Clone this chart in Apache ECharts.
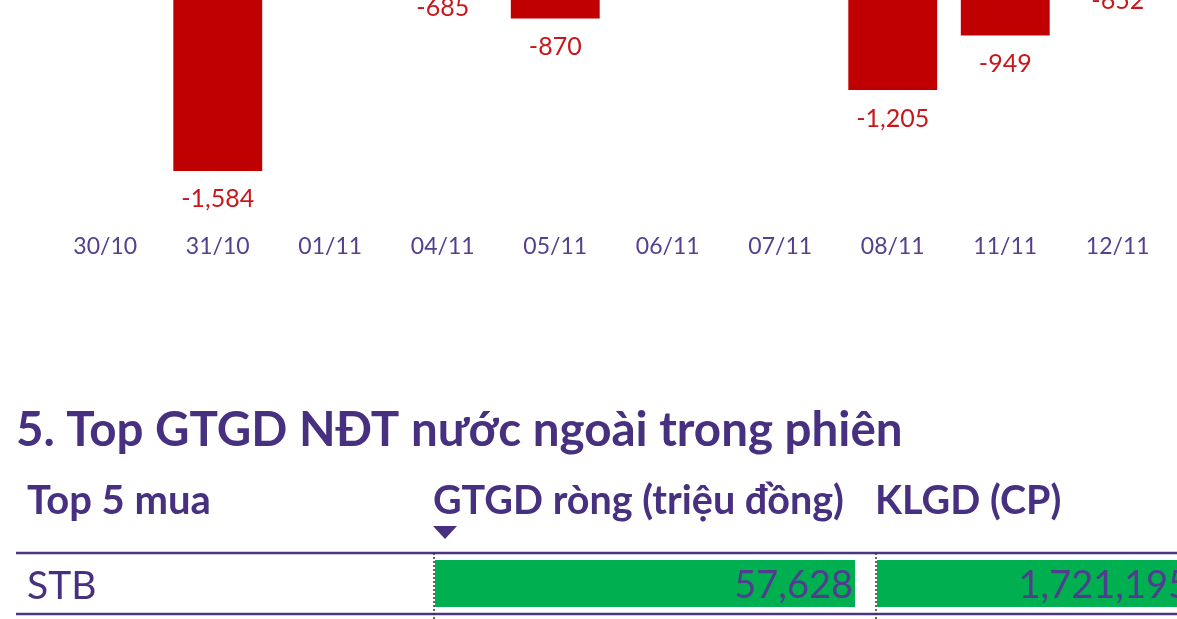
<!DOCTYPE html>
<html>
<head>
<meta charset="utf-8">
<script src="https://cdn.jsdelivr.net/npm/echarts@6/dist/echarts.min.js"></script>
<style>
html,body{margin:0;padding:0;background:#fff;}
#c{width:1177px;height:619px;}
</style>
</head>
<body>
<div id="c"></div>
<script>
// ---- data ----
var dates = ['30/10','31/10','01/11','04/11','05/11','06/11','07/11','08/11','11/11','12/11'];
// net foreign trading value (bn VND); positive days are above the visible area (unknown -> null)
var netValues = [null, -1584, null, -685, -870, null, null, -1205, -949, -652];

var sectionTitle = '5. Top GTGD NĐT nước ngoài trong phiên';
var tableHeaders = ['Top 5 mua', 'GTGD ròng (triệu đồng)', 'KLGD (CP)'];
var topBuyTickers = ['STB'];
var topBuyValue = [57628];
var topBuyVolume = [1721195];

// ---- style ----
var PURPLE = '#47307F';
var AXIS_PURPLE = '#54408F';
var RED = '#C00000';
var LABEL_RED = '#C8161B';
var GREEN = '#00B050';
var FONT = 'Lato, "Noto Sans", sans-serif';

function fmt(v){ return Number(v).toLocaleString('en-US'); }

var chart = echarts.init(document.getElementById('c'), null, {renderer:'canvas'});

var option = {
  animation: false,
  backgroundColor: '#fff',
  textStyle: { fontFamily: FONT },
  grid: [
    { left: 49, right: 3, top: -167, bottom: 402, outerBoundsMode: 'none', containLabel: false },
    { left: 435, top: 560, width: 420, height: 47, outerBoundsMode: 'none', containLabel: false },
    { left: 877, top: 560, width: 315, height: 47, outerBoundsMode: 'none', containLabel: false }
  ],
  xAxis: [
    {
      gridIndex: 0, type: 'category', data: dates, position: 'bottom',
      axisLine: { show: false, onZero: false }, axisTick: { show: false },
      axisLabel: { color: AXIS_PURPLE, fontSize: 23, margin: 18, fontFamily: FONT }
    },
    { gridIndex: 1, type: 'value', min: 0, max: Math.max.apply(null, topBuyValue), show: false },
    { gridIndex: 2, type: 'value', min: 0, max: Math.max.apply(null, topBuyVolume), show: false }
  ],
  yAxis: [
    { gridIndex: 0, type: 'value', min: -1800, max: 0, show: false, splitLine: { show: false } },
    { gridIndex: 1, type: 'category', data: topBuyTickers, inverse: true, show: false },
    { gridIndex: 2, type: 'category', data: topBuyTickers, inverse: true, show: false }
  ],
  series: [
    {
      type: 'bar', xAxisIndex: 0, yAxisIndex: 0, data: netValues,
      barCategoryGap: '21%', clip: false,
      itemStyle: { color: RED },
      label: {
        show: true, position: 'bottom', distance: 16,
        color: LABEL_RED, fontSize: 25, fontFamily: FONT,
        formatter: function(p){ return fmt(p.value); }
      }
    },
    {
      type: 'bar', xAxisIndex: 1, yAxisIndex: 1, data: topBuyValue,
      barWidth: 47, itemStyle: { color: GREEN },
      label: {
        show: true, position: 'insideRight', distance: 2, offset: [0, 2],
        color: '#503D8F', fontSize: 38, fontFamily: FONT,
        formatter: function(p){ return fmt(p.value); }
      }
    },
    {
      type: 'bar', xAxisIndex: 2, yAxisIndex: 2, data: topBuyVolume,
      barWidth: 47, itemStyle: { color: GREEN },
      label: {
        show: true, position: 'insideRight', distance: 2, offset: [0, 2],
        color: '#503D8F', fontSize: 38, fontFamily: FONT,
        formatter: function(p){ return fmt(p.value); }
      }
    }
  ],
  graphic: [
    { type: 'text', left: 16, top: 407, style: { text: sectionTitle, fill: PURPLE, font: 'bold 47.5px ' + FONT } },
    { type: 'text', left: 27, top: 481, style: { text: tableHeaders[0], fill: PURPLE, font: 'bold 40px ' + FONT } },
    { type: 'text', left: 433, top: 481, style: { text: tableHeaders[1], fill: PURPLE, font: 'bold 39.5px ' + FONT } },
    { type: 'text', left: 875, top: 481, style: { text: tableHeaders[2], fill: PURPLE, font: 'bold 39.5px ' + FONT } },
    { type: 'polygon', shape: { points: [[433,526],[457,526],[445,539]] }, style: { fill: PURPLE } },
    { type: 'line', shape: { x1: 16, y1: 553, x2: 1177, y2: 553 }, style: { stroke: '#4B3585', lineWidth: 2.5 } },
    { type: 'line', shape: { x1: 16, y1: 614, x2: 1177, y2: 614 }, style: { stroke: '#4B3585', lineWidth: 2.5 } },
    { type: 'line', shape: { x1: 434, y1: 553, x2: 434, y2: 619 }, style: { stroke: '#333', lineWidth: 1.5, lineDash: [2,2] } },
    { type: 'line', shape: { x1: 876, y1: 553, x2: 876, y2: 619 }, style: { stroke: '#333', lineWidth: 1.5, lineDash: [2,2] } },
    { type: 'text', left: 27, top: 567, style: { text: topBuyTickers[0], fill: PURPLE, font: '39px ' + FONT } }
  ]
};
chart.setOption(option);
</script>
</body>
</html>
